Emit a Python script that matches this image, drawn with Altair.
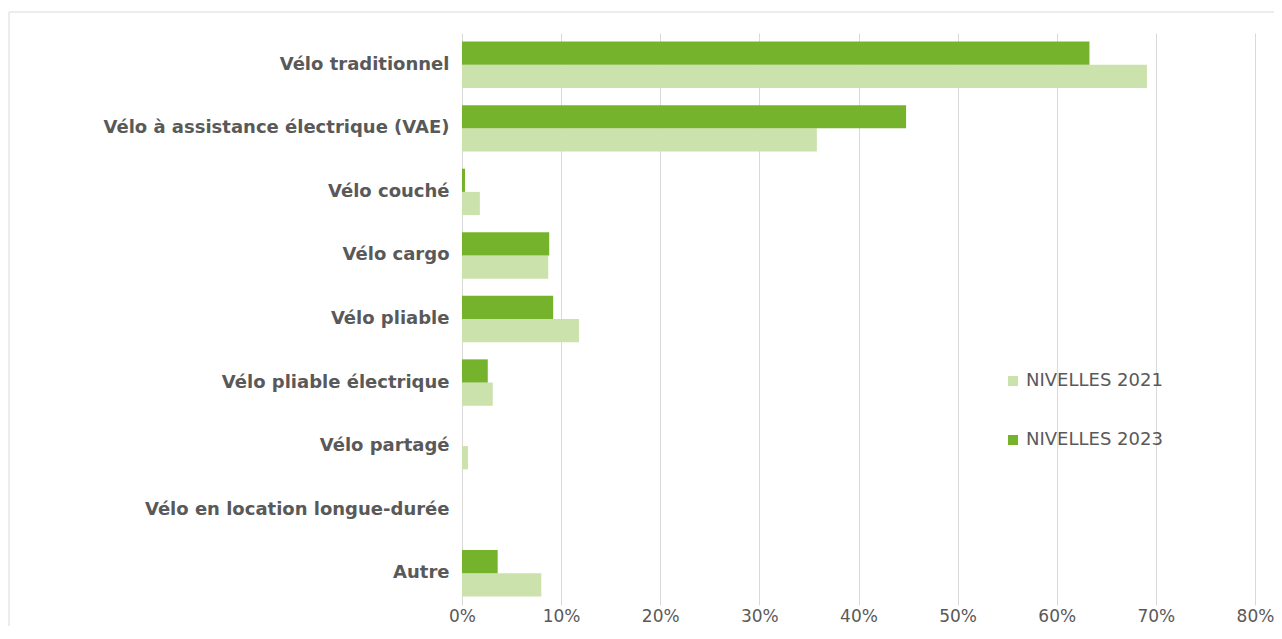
import altair as alt
import pandas as pd

categories = [
    "Vélo traditionnel",
    "Vélo à assistance électrique (VAE)",
    "Vélo couché",
    "Vélo cargo",
    "Vélo pliable",
    "Vélo pliable électrique",
    "Vélo partagé",
    "Vélo en location longue-durée",
    "Autre",
]
series = ["NIVELLES 2021", "NIVELLES 2023"]
values_2021 = [0.691, 0.358, 0.018, 0.087, 0.118, 0.031, 0.006, 0.0, 0.080]
values_2023 = [0.633, 0.448, 0.003, 0.088, 0.092, 0.026, 0.0, 0.0, 0.036]
x_ticks = [0, 0.1, 0.2, 0.3, 0.4, 0.5, 0.6, 0.7, 0.8]
colors = ["#CBE2AD", "#76B32D"]

rows = []
for c, a, b in zip(categories, values_2021, values_2023):
    rows.append({"cat": c, "serie": series[0], "val": a})
    rows.append({"cat": c, "serie": series[1], "val": b})
df = pd.DataFrame(rows)

W, H = 793, 572
LEFT, TOP, RIGHT, BOTTOM = 454, 25, 19, 21

border = alt.Chart(pd.DataFrame({"k": [0]})).mark_rect(
    fill=None, stroke="#d9d9d9", strokeWidth=1
).encode(
    x=alt.value(-453), x2=alt.value(W + 40), y=alt.value(-21), y2=alt.value(H + 60)
)

bars = alt.Chart(df).mark_bar().encode(
    y=alt.Y(
        "cat:N",
        sort=categories,
        title=None,
        scale=alt.Scale(paddingInner=0.27, paddingOuter=0.135),
        axis=alt.Axis(
            domain=False, ticks=False, labelFont="DejaVu Sans", labelFontWeight="bold",
            labelFontSize=18, labelColor="#595959", labelPadding=13, labelLimit=440,
        ),
    ),
    yOffset=alt.YOffset("serie:N", sort=["NIVELLES 2023", "NIVELLES 2021"],
                        scale=alt.Scale(paddingInner=0, paddingOuter=0)),
    x=alt.X(
        "val:Q",
        title=None,
        scale=alt.Scale(domain=[0, 0.8], nice=False),
        axis=alt.Axis(
            values=x_ticks, format=".0%", domain=False, ticks=False, grid=True,
            gridColor="#d9d9d9", labelFont="DejaVu Sans", labelFontSize=17,
            labelColor="#595959", labelPadding=3, labelFlush=False,
        ),
    ),
    color=alt.Color(
        "serie:N",
        scale=alt.Scale(domain=series, range=colors),
        legend=alt.Legend(
            title=None, orient="none", legendX=542, legendY=339, symbolType="square",
            symbolSize=100, symbolStrokeWidth=0, labelFont="DejaVu Sans", labelFontSize=18,
            labelColor="#595959", rowPadding=41, labelOffset=4,
        ),
    ),
)

chart = alt.layer(border, bars).properties(
    width=W, height=H,
    autosize=alt.AutoSizeParams(type="none"),
    padding={"left": LEFT, "top": TOP, "right": RIGHT, "bottom": BOTTOM},
).configure(background="white").configure_view(stroke=None)

chart.save("out.html", embed_options={"renderer": "svg", "actions": False})
